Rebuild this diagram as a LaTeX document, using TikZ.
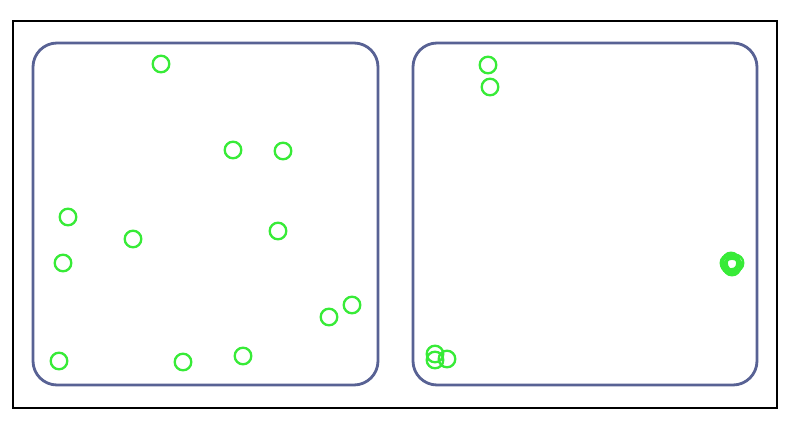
\documentclass[tikz,border=0pt]{standalone}
\usepackage{tikz}
\definecolor{boxblue}{RGB}{88,98,148}
\definecolor{dotgreen}{RGB}{55,235,55}
\begin{document}
\begin{tikzpicture}[x=1pt,y=-1pt,
  panel/.style={draw=boxblue,line width=2.8pt,rounded corners=24pt},
  dot/.style={draw=dotgreen,line width=2.3pt}]
\useasboundingbox (0,0) rectangle (796,428);
\fill[white] (0,0) rectangle (796,428);
\draw[black,line width=1.8pt] (13,21) rectangle (777,408);
\draw[panel] (33,43) rectangle (378,385);
\draw[panel] (413,43) rectangle (757,385);
\foreach \p in {(161,64),(233,150),(283,151),(68,217),(133,239),(63,263),(278,231),(352,305),(329,317),(59,361),(183,362),(243,356),
  (488,65),(490,87),(435,354),(435,360),(447,359),
  (729,263),(735,263),(732,267),(731,261),(733,265),(730,265)}
  \draw[dot] \p circle (8.3);
\end{tikzpicture}
\end{document}
